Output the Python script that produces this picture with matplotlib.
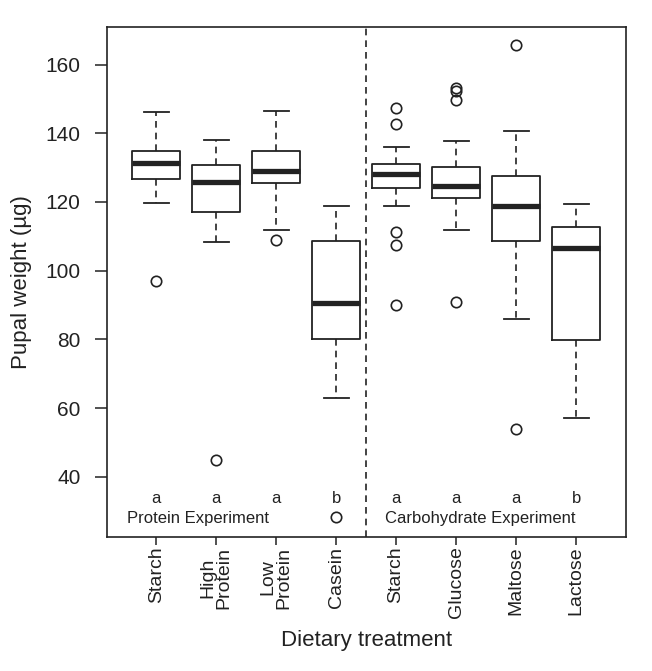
import matplotlib.pyplot as plt
import numpy as np

plt.rcParams['font.family'] = ['Liberation Sans', 'DejaVu Sans']

# treatments and box statistics
labels = ["Starch", "High\nProtein", "Low\nProtein", "Casein",
          "Starch", "Glucose", "Maltose", "Lactose"]
whis_lo = [119.6, 108.4, 111.7, 62.8, 118.8, 111.8, 86.0, 57.2]
q1 = [126.8, 117.2, 125.4, 80.1, 124.0, 121.2, 108.6, 79.9]
medians = [131.3, 125.8, 129.1, 90.6, 128.1, 124.7, 118.9, 106.7]
q3 = [134.8, 130.7, 134.9, 108.5, 131.0, 130.2, 127.7, 112.7]
whis_hi = [146.1, 138.1, 146.6, 118.8, 135.9, 137.7, 140.6, 119.3]
outliers = [[96.9], [44.9], [108.8], [28.2],
            [147.3, 142.7, 111.3, 107.5, 89.9],
            [153.2, 152.2, 149.8, 90.9],
            [165.6, 54.0], []]
letters = ["a", "a", "a", "b", "a", "a", "a", "b"]

stats = []
for i in range(len(labels)):
    stats.append(dict(whislo=whis_lo[i], q1=q1[i], med=medians[i], q3=q3[i],
                      whishi=whis_hi[i], fliers=outliers[i]))

fig = plt.figure(figsize=(6.52, 6.71), dpi=100)
ax = fig.add_axes([0.164, 0.200, 0.796, 0.760])

pos = np.arange(1, len(labels) + 1)
ax.bxp(stats, positions=pos, widths=0.8, showfliers=True,
       boxprops=dict(color='#222222', linewidth=1.3),
       medianprops=dict(color='#222222', linewidth=3.8, solid_capstyle='butt'),
       whiskerprops=dict(color='#222222', linewidth=1.2, linestyle=(0, (4, 3))),
       capprops=dict(color='#222222', linewidth=1.3),
       capwidths=0.42,
       flierprops=dict(marker='o', markerfacecolor='none', markeredgecolor='#222222',
                       markersize=7.5, markeredgewidth=1.2))

ax.axvline(4.5, color='#222222', linewidth=1.2, linestyle=(0, (4, 3)))

for p, l in zip(pos, letters):
    ax.text(p, 33.6, l, ha='center', va='center', fontsize=12, color='#222222')
ax.text(1.7, 27.8, "Protein Experiment", ha='center', va='center', fontsize=12, color='#222222')
ax.text(6.4, 27.8, "Carbohydrate Experiment", ha='center', va='center', fontsize=12, color='#222222')

ax.set_xlim(0.18, 8.83)
ax.set_ylim(22.5, 171)
ax.set_yticks([40, 60, 80, 100, 120, 140, 160])
ax.set_xticks(pos)
ax.set_xticklabels(labels, rotation=90, ha='center', va='top', fontsize=14,
                   linespacing=0.9)
ax.tick_params(axis='y', labelsize=15, length=9, width=1.1, pad=10, colors='#222222')
ax.tick_params(axis='x', length=6, width=1.1, pad=1, colors='#222222')
for s in ax.spines.values():
    s.set_linewidth(1.2)
    s.set_color('#222222')

ax.set_ylabel("Pupal weight (µg)", fontsize=16, color='#222222', labelpad=10)
ax.set_xlabel("Dietary treatment", fontsize=16, color='#222222', labelpad=8)

fig.savefig("out.png", dpi=100)
